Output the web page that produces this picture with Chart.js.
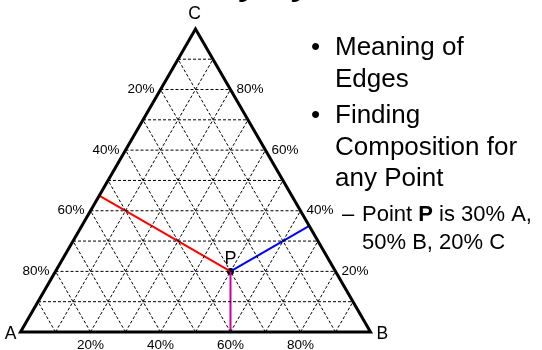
<!DOCTYPE html>
<html>
<head>
<meta charset="utf-8">
<script src="https://cdn.jsdelivr.net/npm/chart.js@4/dist/chart.umd.min.js"></script>
<style>
html,body{margin:0;padding:0;background:#fff;}
#box{width:542px;height:350px;position:relative;overflow:hidden;}
canvas{display:block;}
</style>
</head>
<body>
<div id="box"><canvas id="c" width="542" height="350"></canvas></div>
<script>
// ---------- data ----------
const titleText = 'Ternary Systems';
const vertexNames = ['A', 'B', 'C'];
const gridFractions = [0.1, 0.2, 0.3, 0.4, 0.5, 0.6, 0.7, 0.8, 0.9];
const tickFractions = [0.2, 0.4, 0.6, 0.8];
const tickLabels = ['20%', '40%', '60%', '80%'];
const pointName = 'P';
const pointComposition = [0.3, 0.5, 0.2]; // A, B, C
const bulletItems = [['Meaning of', 'Edges'], ['Finding', 'Composition for', 'any Point']];

// ---------- helpers ----------
const S3 = Math.sqrt(3) / 2;
function tern(a, b, c) { return { x: b + c / 2, y: c * S3 }; }

const FONT = "'Liberation Sans', Arial, sans-serif";
const datasets = [];

// grid lines (dashed)
gridFractions.forEach(f => {
  // C constant (horizontal)
  datasets.push({ data: [tern(1 - f, 0, f), tern(0, 1 - f, f)] });
  // B constant (parallel to AC)
  datasets.push({ data: [tern(1 - f, f, 0), tern(0, f, 1 - f)] });
  // A constant (parallel to BC)
  datasets.push({ data: [tern(f, 1 - f, 0), tern(f, 0, 1 - f)] });
});
datasets.forEach(d => Object.assign(d, {
  showLine: true, borderColor: '#000', borderWidth: 1, borderDash: [3, 2],
  pointRadius: 0, fill: false
}));

// outline
const vA = tern(1, 0, 0), vB = tern(0, 1, 0), vC = tern(0, 0, 1);
datasets.push({
  data: [vA, vB, vC, vA, vB], showLine: true, borderColor: '#000', borderWidth: 3,
  borderJoinStyle: 'miter', pointRadius: 0, fill: false
});

// perpendiculars from P
const [pa, pb, pc] = pointComposition;
const P = tern(pa, pb, pc);
const footAC = tern(pa + pb / 2, 0, pc + pb / 2);
const footBC = tern(0, pb + pa / 2, pc + pa / 2);
const footAB = tern(pa + pc / 2, pb + pc / 2, 0);
datasets.push({ data: [footAC, P], showLine: true, borderColor: '#ff0000', borderWidth: 2, pointRadius: 0 });
datasets.push({ data: [P, footBC], showLine: true, borderColor: '#0000ff', borderWidth: 2, pointRadius: 0 });
datasets.push({ data: [P, footAB], showLine: true, borderColor: '#cc0099', borderWidth: 2, pointRadius: 0 });
datasets.push({ data: [P], showLine: false, pointRadius: 3.5, backgroundColor: '#000', borderColor: '#000', borderWidth: 0 });

// ---------- text plugin ----------
const textPlugin = {
  id: 'texts',
  afterDatasetsDraw(chart) {
    const ctx = chart.ctx, xs = chart.scales.x, ys = chart.scales.y;
    const pix = p => [xs.getPixelForValue(p.x), ys.getPixelForValue(p.y)];
    ctx.save();
    ctx.fillStyle = '#000';

    // title (cut off at top)
    ctx.font = 'bold 35px ' + FONT;
    ctx.textAlign = 'center'; ctx.textBaseline = 'alphabetic';
    ctx.fillText(titleText, 271, -5);

    // edge percentage labels
    ctx.font = '13.5px ' + FONT;
    ctx.textBaseline = 'middle';
    tickFractions.forEach((f, i) => {
      // left edge (A-C): A percentage
      let [x, y] = pix(tern(1 - f, 0, f));
      ctx.textAlign = 'right';
      ctx.fillText(tickLabels[tickLabels.length - 1 - i], x - 6, y);
      // right edge (B-C): C percentage
      [x, y] = pix(tern(0, 1 - f, f));
      ctx.textAlign = 'left';
      ctx.fillText(tickLabels[i], x + 6, y);
      // bottom edge (A-B): B percentage
      [x, y] = pix(tern(1 - f, f, 0));
      ctx.textAlign = 'center';
      ctx.fillText(tickLabels[i], x, y + 13);
    });

    // vertex labels
    ctx.font = '17.5px ' + FONT;
    ctx.textBaseline = 'alphabetic';
    let [x, y] = pix(vA);
    ctx.textAlign = 'right'; ctx.fillText(vertexNames[0], x - 4, y + 7);
    [x, y] = pix(vB);
    ctx.textAlign = 'left'; ctx.fillText(vertexNames[1], x + 6, y + 7);
    [x, y] = pix(vC);
    ctx.textAlign = 'center'; ctx.fillText(vertexNames[2], x - 1, y - 10);

    // P label
    [x, y] = pix(P);
    ctx.font = '18px ' + FONT;
    ctx.fillText(pointName, x, y - 7);

    // bullets
    ctx.textAlign = 'left';
    ctx.font = '26px ' + FONT;
    const bulletBase = [55, 123];
    const lineH = 31.5;
    bulletItems.forEach((lines, bi) => {
      ctx.fillText('\u2022', 311, bulletBase[bi]);
      lines.forEach((t, li) => ctx.fillText(t, 335, bulletBase[bi] + li * lineH));
    });

    // sub-bullet with composition
    const pct = v => Math.round(v * 100) + '%';
    ctx.font = '22px ' + FONT;
    ctx.fillText('\u2013', 342, 221);
    let cx = 362;
    const seg = (t, bold) => {
      ctx.font = (bold ? 'bold ' : '') + '22px ' + FONT;
      ctx.fillText(t, cx, 221);
      cx += ctx.measureText(t).width;
    };
    seg('Point ', false);
    seg(pointName, true);
    seg(' is ' + pct(pa) + ' ' + vertexNames[0] + ',', false);
    ctx.font = '22px ' + FONT;
    ctx.fillText(pct(pb) + ' ' + vertexNames[1] + ', ' + pct(pc) + ' ' + vertexNames[2], 362, 249);

    ctx.restore();
  }
};

// ---------- chart ----------
// pixel mapping: base from x=20.5 to x=370.5, base at y=332, side 350px
const SIDE = 350, X0 = 20.5, Y0 = 332, W = 542, H = 350;
new Chart(document.getElementById('c'), {
  type: 'scatter',
  data: { datasets },
  options: {
    responsive: false,
    animation: false,
    devicePixelRatio: 1,
    layout: { padding: 0, autoPadding: false },
    plugins: { legend: { display: false }, tooltip: { enabled: false } },
    elements: { line: { tension: 0 } },
    scales: {
      x: { type: 'linear', display: false, min: -X0 / SIDE, max: (W - X0) / SIDE },
      y: { type: 'linear', display: false, min: -(H - Y0) / SIDE, max: Y0 / SIDE }
    }
  },
  plugins: [textPlugin]
});
</script>
</body>
</html>
